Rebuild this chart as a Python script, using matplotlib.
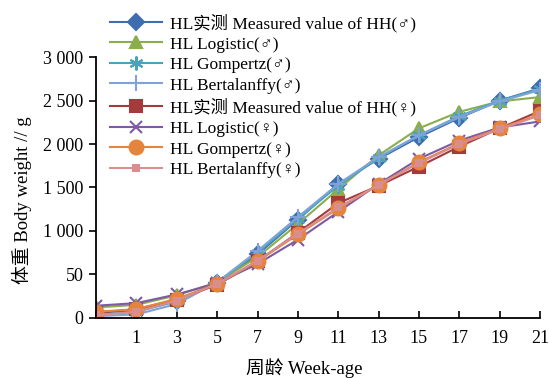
import matplotlib
matplotlib.use("Agg")
import matplotlib.pyplot as plt

plt.rcParams['font.family'] = ['Liberation Serif', 'Noto Sans CJK SC', 'DejaVu Sans']

weeks = [0, 1, 3, 5, 7, 9, 11, 13, 15, 17, 19, 21]
x_labels = ['', '1', '3', '5', '7', '9', '11', '13', '15', '17', '19', '21']
y_ticks = [0, 500, 1000, 1500, 2000, 2500, 3000]
y_labels = ['0', '50', '1 000', '1 500', '2 000', '2 500', '3 000']

male_measured = [60, 90, 200, 400, 730, 1130, 1540, 1830, 2080, 2300, 2500, 2640]
male_logistic = [120, 150, 260, 410, 700, 1080, 1480, 1870, 2180, 2370, 2490, 2540]
male_gompertz = [40, 70, 190, 410, 750, 1140, 1520, 1840, 2100, 2320, 2500, 2630]
male_bertalanffy = [20, 40, 160, 410, 770, 1160, 1540, 1850, 2100, 2310, 2490, 2620]
female_measured = [60, 100, 210, 380, 650, 980, 1320, 1520, 1740, 1970, 2180, 2380]
female_logistic = [140, 170, 270, 400, 620, 900, 1220, 1540, 1830, 2040, 2190, 2260]
female_gompertz = [70, 100, 220, 390, 650, 960, 1260, 1530, 1790, 2010, 2180, 2340]
female_bertalanffy = [30, 70, 200, 390, 660, 970, 1270, 1530, 1780, 2000, 2170, 2330]

series = [
    ("HL实测 Measured value of HH(♂)", male_measured, '#3E6DB0', 'D', 8),
    ("HL Logistic(♂)", male_logistic, '#8AAE4C', '^', 9),
    ("HL Gompertz(♂)", male_gompertz, '#4AA3BD', (6, 2, 0), 10),
    ("HL Bertalanffy(♂)", male_bertalanffy, '#7FA3D8', '+', 11),
    ("HL实测 Measured value of HH(♀)", female_measured, '#A53A3C', 's', 9),
    ("HL Logistic(♀)", female_logistic, '#7D5AA3', 'x', 9),
    ("HL Gompertz(♀)", female_gompertz, '#E5843D', 'o', 10),
    ("HL Bertalanffy(♀)", female_bertalanffy, '#D98D8E', 's', 4),
]

fig = plt.figure(figsize=(5.49, 3.78), dpi=100)
ax = fig.add_axes([0.175, 0.159, 0.8086, 0.690])

xpos = list(range(len(weeks)))
for label, vals, color, marker, ms in series:
    ax.plot(xpos, vals, color=color, marker=marker, markersize=ms, linewidth=1.5,
            markeredgecolor=color, markeredgewidth=1.5, label=label)

ax.set_xlim(0, len(weeks) - 1)
ax.set_ylim(0, 3000)
ax.set_xticks(xpos)
ax.set_xticklabels(x_labels, fontsize=13)
ax.set_yticks(y_ticks)
ax.set_yticklabels(y_labels, fontsize=13)
ax.tick_params(axis='x', direction='in', length=5, width=1.2, pad=9)
ax.tick_params(axis='y', direction='out', length=5, width=1.2, pad=4)
for s in ['top', 'right']:
    ax.spines[s].set_visible(False)
for s in ['left', 'bottom']:
    ax.spines[s].set_linewidth(1.3)
ax.set_facecolor('none')

ax.set_xlabel("周龄 Week-age", fontsize=13.5)
ax.xaxis.set_label_coords(0.468, -0.155)
ax.set_ylabel("体重 Body weight // g", fontsize=13.5)
ax.yaxis.set_label_coords(-0.145, 0.45)

leg = fig.legend(loc='upper left', bbox_to_anchor=(0.182, 0.992), frameon=False,
                 fontsize=12.5, handlelength=3.0, handletextpad=0.45,
                 labelspacing=0.25, borderaxespad=0.2)

fig.savefig("out.png", dpi=100)
